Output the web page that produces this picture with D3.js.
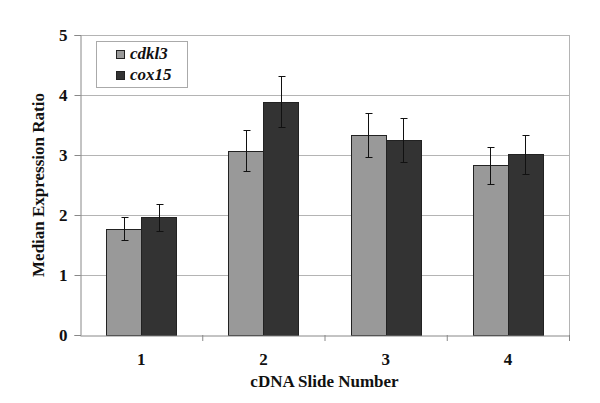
<!DOCTYPE html>
<meta charset="utf-8">
<style>
body { margin: 0; background: #fff; }
.grid line { stroke: #b4b4b4; stroke-width: 1px; }
</style>
<svg width="600" height="403"></svg>
<script src="https://d3js.org/d3.v7.min.js"></script>
<script>

var slides = ["1", "2", "3", "4"];
var series = ["cdkl3", "cox15"];
var cdkl3 = [1.77, 3.07, 3.33, 2.83];
var cdkl3Err = [0.19, 0.34, 0.37, 0.31];
var cox15 = [1.96, 3.89, 3.25, 3.01];
var cox15Err = [0.22, 0.43, 0.36, 0.33];
var yTicks = [0, 1, 2, 3, 4, 5];

var colors = { cdkl3: "#999999", cox15: "#333333" };
var values = { cdkl3: cdkl3, cox15: cox15 };
var errors = { cdkl3: cdkl3Err, cox15: cox15Err };
var serif = "'Liberation Serif', 'Times New Roman', serif";

var svg = d3.select("svg");
// plot area edges
var pLeft = 80, pRight = 569, pTop = 35, pBottom = 335;

var x = d3.scaleBand().domain(slides).range([pLeft, pRight]).paddingInner(0).paddingOuter(0);
var xs = d3.scaleBand().domain(series).range([0, 70]);
var y = d3.scaleLinear().domain([0, 5]).range([pBottom, pTop]);

// gridlines
svg.append("g").attr("class", "grid")
  .selectAll("line").data(yTicks.slice(1)).enter().append("line")
  .attr("x1", pLeft).attr("x2", pRight)
  .attr("y1", function(d) { return y(d) + 0.5; })
  .attr("y2", function(d) { return y(d) + 0.5; });

// right border
svg.append("line")
  .attr("x1", pRight + 0.5).attr("x2", pRight + 0.5)
  .attr("y1", pTop).attr("y2", pBottom)
  .attr("stroke", "#b4b4b4");

// bars
var rows = [];
slides.forEach(function(s, i) {
  series.forEach(function(k) {
    rows.push({ slide: s, key: k, v: values[k][i], e: errors[k][i] });
  });
});

var groupOff = (x.bandwidth() - 70) / 2;

svg.append("g").selectAll("rect").data(rows).enter().append("rect")
  .attr("x", function(d) { return Math.round(x(d.slide) + groupOff + xs(d.key)) + 0.5; })
  .attr("y", function(d) { return Math.round(y(d.v)) + 0.5; })
  .attr("width", xs.bandwidth())
  .attr("height", function(d) { return pBottom - Math.round(y(d.v)); })
  .attr("fill", function(d) { return colors[d.key]; })
  .attr("stroke", "#222")
  .attr("stroke-width", 1);

// error bars
var eb = svg.append("g").attr("stroke", "#111").attr("stroke-width", 1);
rows.forEach(function(d) {
  var cx = Math.round(x(d.slide) + groupOff + xs(d.key) + xs.bandwidth() / 2) + 0.5;
  var y1 = Math.round(y(d.v + d.e)) + 0.5, y2 = Math.round(y(d.v - d.e)) + 0.5;
  eb.append("line").attr("x1", cx).attr("x2", cx).attr("y1", y1).attr("y2", y2);
  eb.append("line").attr("x1", cx - 3).attr("x2", cx + 4).attr("y1", y1).attr("y2", y1);
  eb.append("line").attr("x1", cx - 3).attr("x2", cx + 4).attr("y1", y2).attr("y2", y2);
});

// axes
var yAxis = svg.append("g").attr("transform", "translate(" + (pLeft + 0.5) + ",0)")
  .call(d3.axisLeft(y).tickValues(yTicks).tickFormat(d3.format("d")).tickSize(6).tickPadding(7));
yAxis.select(".domain").attr("stroke", "#888");
yAxis.selectAll(".tick line").attr("stroke", "#888");

var xAxis = svg.append("g").attr("transform", "translate(0," + (pBottom + 0.5) + ")")
  .call(d3.axisBottom(x).tickSize(0).tickPadding(17));
xAxis.select(".domain").attr("stroke", "#888");

svg.selectAll(".tick text")
  .style("font-family", serif).style("font-weight", "bold")
  .style("font-size", "17px").attr("fill", "#111");

// category separators
svg.append("g").selectAll("line").data(slides.slice(1).concat(["end"])).enter().append("line")
  .attr("x1", function(d) { return d === "end" ? pRight + 0.5 : x(d) + 0.5; })
  .attr("x2", function(d) { return d === "end" ? pRight + 0.5 : x(d) + 0.5; })
  .attr("y1", pBottom).attr("y2", pBottom + 6)
  .attr("stroke", "#888");

// titles
svg.append("text")
  .attr("x", (pLeft + pRight) / 2).attr("y", 387)
  .attr("text-anchor", "middle")
  .style("font-family", serif).style("font-weight", "bold").style("font-size", "17px")
  .attr("fill", "#111")
  .text("cDNA Slide Number");

svg.append("text")
  .attr("transform", "translate(44," + (pTop + pBottom) / 2 + ") rotate(-90)")
  .attr("text-anchor", "middle")
  .style("font-family", serif).style("font-weight", "bold").style("font-size", "17px")
  .attr("fill", "#111")
  .text("Median Expression Ratio");

// legend
var lg = svg.append("g");
lg.append("rect").attr("x", 96.5).attr("y", 41.5).attr("width", 91).attr("height", 46)
  .attr("fill", "#fff").attr("stroke", "#aaa");
series.forEach(function(k, i) {
  lg.append("rect").attr("x", 116.5).attr("y", 50.5 + i * 21).attr("width", 8).attr("height", 8)
    .attr("fill", colors[k]).attr("stroke", "#222");
  lg.append("text").attr("x", 130).attr("y", 59 + i * 21)
    .style("font-family", serif).style("font-weight", "bold")
    .style("font-size", "17px").style("font-style", "italic")
    .attr("fill", "#111")
    .text(k);
});

</script>
